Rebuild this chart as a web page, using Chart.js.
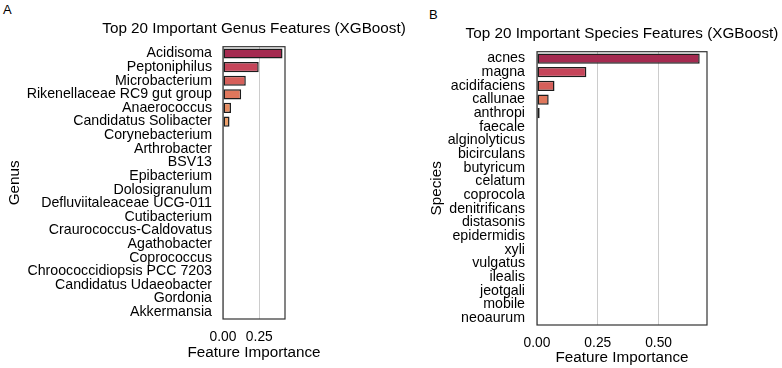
<!DOCTYPE html>
<html>
<head>
<meta charset="utf-8">
<script src="https://cdn.jsdelivr.net/npm/chart.js@4.4.1/dist/chart.umd.min.js"></script>
<style>
  html, body { margin: 0; padding: 0; background: #fff; }
  body { width: 782px; height: 368px; overflow: hidden; position: relative; font-family: "Liberation Sans", Arial, sans-serif; }
  canvas { position: absolute; }
  .panel { position: absolute; font-size: 13px; line-height: 1; color: #000; }
</style>
</head>
<body>
<div class="panel" style="left:3px; top:2.6px">A</div>
<div class="panel" style="left:429px; top:8.3px">B</div>
<canvas id="genusChart" width="508" height="368" style="left:0; top:0"></canvas>
<canvas id="speciesChart" width="404" height="368" style="left:420px; top:5px"></canvas>
<script>
const genusLabels = [
  'Acidisoma', 'Peptoniphilus', 'Microbacterium', 'Rikenellaceae RC9 gut group',
  'Anaerococcus', 'Candidatus Solibacter', 'Corynebacterium', 'Arthrobacter',
  'BSV13', 'Epibacterium', 'Dolosigranulum', 'Defluviitaleaceae UCG-011',
  'Cutibacterium', 'Craurococcus-Caldovatus', 'Agathobacter', 'Coprococcus',
  'Chroococcidiopsis PCC 7203', 'Candidatus Udaeobacter', 'Gordonia', 'Akkermansia'
];
const genusImportance = [0.41, 0.246, 0.157, 0.125, 0.055, 0.045, 0, 0, 0, 0, 0, 0, 0, 0, 0, 0, 0, 0, 0, 0];
const genusTicks = [0, 0.25];

const speciesLabels = [
  'acnes', 'magna', 'acidifaciens', 'callunae', 'anthropi', 'faecale',
  'alginolyticus', 'bicirculans', 'butyricum', 'celatum', 'coprocola',
  'denitrificans', 'distasonis', 'epidermidis', 'xyli', 'vulgatus',
  'ilealis', 'jeotgali', 'mobile', 'neoaurum'
];
const speciesImportance = [0.669, 0.203, 0.072, 0.048, 0.011, 0, 0, 0, 0, 0, 0, 0, 0, 0, 0, 0, 0, 0, 0, 0];
const speciesTicks = [0, 0.25, 0.5];

const barColors = [
  '#a52a50', '#c6455a', '#d65f5a', '#e0775c', '#e88c60', '#eea06b',
  '#f0ab76', '#f2b381', '#f3ba8b', '#f4c095', '#f5c69e', '#f6cba7',
  '#f7d0af', '#f7d4b6', '#f8d8bd', '#f8dcc3', '#f9dfc9', '#f9e2ce',
  '#fae5d3', '#fae8d8'
];

const FONT = '"Liberation Sans", Arial, sans-serif';
Chart.defaults.font.family = FONT;
Chart.defaults.color = '#000';

// full box around the plot area, like matplotlib spines
const frame = {
  id: 'frame',
  afterDatasetsDraw(chart) {
    const { ctx, chartArea: a } = chart;
    ctx.save();
    ctx.strokeStyle = '#333';
    ctx.lineWidth = 1.2;
    ctx.strokeRect(a.left, a.top, a.right - a.left, a.bottom - a.top);
    ctx.restore();
  }
};

// x axis title, allowed to be wider than the narrow plot
const xCaption = {
  id: 'xCaption',
  afterDraw(chart, args, opts) {
    const { ctx, chartArea: a } = chart;
    ctx.save();
    ctx.font = opts.size + 'px ' + FONT;
    ctx.fillStyle = '#000';
    ctx.textAlign = 'center';
    ctx.textBaseline = 'middle';
    ctx.fillText(opts.text, (a.left + a.right) / 2, opts.y);
    ctx.restore();
  }
};

function drawPanel(id, title, axisName, labels, values, ticks, xMax, yWidth, yTitlePad, labelPad, rightWidth, xHeight) {
  new Chart(document.getElementById(id), {
    type: 'bar',
    data: {
      labels: labels,
      datasets: [{
        data: values,
        backgroundColor: barColors,
        borderColor: '#1c1c1c',
        borderWidth: 1.5,
        borderSkipped: false,
        barPercentage: 0.75,
        categoryPercentage: 1
      }]
    },
    options: {
      indexAxis: 'y',
      responsive: false,
      animation: false,
      layout: { padding: 0 },
      plugins: {
        legend: { display: false },
        tooltip: { enabled: false },
        title: {
          display: true,
          text: title,
          color: '#000',
          font: { size: 15.25, weight: 'normal' },
          padding: { top: 19.85, bottom: 8.55 }
        },
        xCaption: { text: 'Feature Importance', size: 15.25, y: 352.5 }
      },
      scales: {
        x: {
          min: 0,
          max: xMax,
          afterBuildTicks: s => { s.ticks = ticks.map(v => ({ value: v })); },
          afterFit: s => { s.height = xHeight; },
          grid: { color: '#cccccc', drawTicks: false },
          border: { display: false },
          ticks: { padding: 10, font: { size: 13.8 }, callback: v => v.toFixed(2) }
        },
        y: {
          afterFit: s => { s.width = yWidth; },
          grid: { display: false, drawTicks: false },
          border: { display: false },
          ticks: { autoSkip: false, padding: labelPad, font: { size: 14.2 } },
          title: {
            display: true,
            text: axisName,
            font: { size: 15.25 },
            padding: { top: yTitlePad, bottom: 0 }
          }
        },
        // empty spacer on the right so the title centres like the original
        spacer: {
          type: 'linear',
          position: 'right',
          afterFit: s => { s.width = rightWidth; },
          grid: { display: false, drawTicks: false },
          border: { display: false },
          ticks: { display: false }
        }
      }
    },
    plugins: [frame, xCaption]
  });
}

drawPanel('genusChart', 'Top 20 Important Genus Features (XGBoost)', 'Genus',
  genusLabels, genusImportance, genusTicks, 0.427, 223, 5.85, 11, 223, 49);
drawPanel('speciesChart', 'Top 20 Important Species Features (XGBoost)', 'Species',
  speciesLabels, speciesImportance, speciesTicks, 0.699, 117, 7.85, 12, 117, 48);
</script>
</body>
</html>
